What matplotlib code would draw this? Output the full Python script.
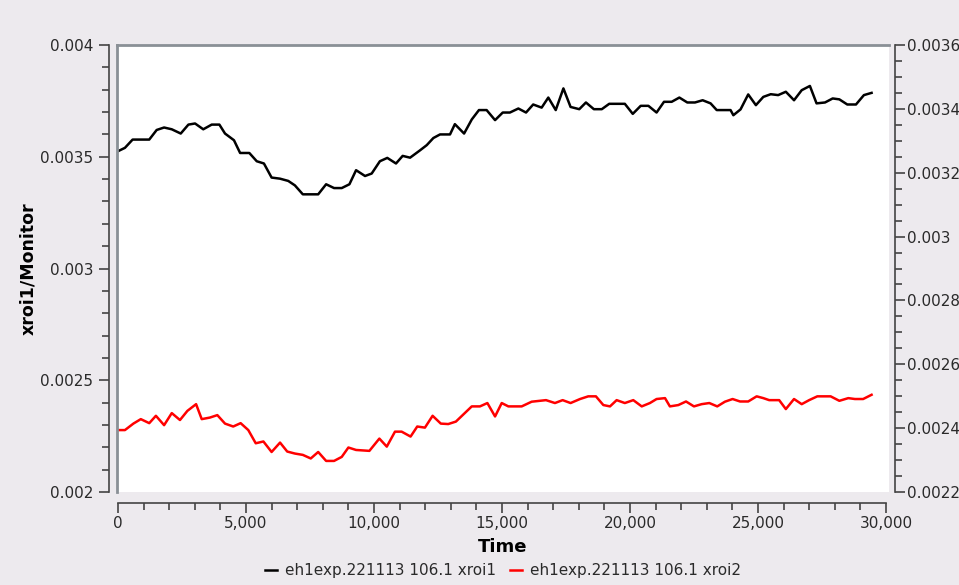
import matplotlib
matplotlib.use('Agg')
from matplotlib import pyplot as plt
from matplotlib.ticker import MultipleLocator, FuncFormatter

# xroi1 / Monitor (black)
t1 = [0, 270, 570, 1220, 1510, 1800, 2100, 2450, 2750, 3010, 3330, 3660, 3960,
      4180, 4530, 4770, 5130, 5420, 5700, 6000, 6330, 6650, 6910, 7220, 7820,
      8130, 8440, 8740, 9040, 9300, 9650, 9910, 10230, 10520, 10860, 11120,
      11410, 11800, 12060, 12320, 12580, 12970, 13160, 13520, 13820, 14100,
      14400, 14730, 15030, 15310, 15640, 15940, 16220, 16550, 16810, 17100,
      17400, 17680, 18020, 18280, 18590, 18900, 19190, 19800, 20110, 20420,
      20720, 21040, 21330, 21630, 21930, 22240, 22540, 22840, 23150, 23390,
      23930, 24040, 24320, 24620, 24920, 25210, 25500, 25790, 26090, 26410,
      26710, 27030, 27290, 27620, 27920, 28180, 28490, 28830, 29140, 29440]
xroi1 = [0.003525, 0.00354, 0.003577, 0.003577, 0.00362, 0.003631, 0.003623,
         0.003604, 0.003644, 0.003649, 0.003623, 0.003644, 0.003644, 0.003604,
         0.003574, 0.003517, 0.003517, 0.00348, 0.00347, 0.003407, 0.003402,
         0.003392, 0.003372, 0.003332, 0.003332, 0.003377, 0.00336, 0.00336,
         0.003377, 0.00344, 0.003414, 0.003425, 0.00348, 0.003495, 0.00347,
         0.003504, 0.003496, 0.003529, 0.003552, 0.003584, 0.0036, 0.0036,
         0.003646, 0.003604, 0.003667, 0.003709, 0.003709, 0.003664, 0.003698,
         0.003698, 0.003716, 0.003698, 0.003734, 0.00372, 0.003765, 0.003709,
         0.003806, 0.003723, 0.003713, 0.003743, 0.003713, 0.003713, 0.003737,
         0.003737, 0.003692, 0.003728, 0.003728, 0.003698, 0.003746, 0.003746,
         0.003765, 0.003743, 0.003743, 0.003753, 0.003739, 0.003709, 0.003709,
         0.003686, 0.003712, 0.003779, 0.003731, 0.003768, 0.00378, 0.003776,
         0.003791, 0.003753, 0.003798, 0.003817, 0.003739, 0.003743, 0.003761,
         0.003757, 0.003734, 0.003734, 0.003776, 0.003786]

# xroi2 (red)
t2 = [0, 270, 600, 890, 1220, 1480, 1800, 2100, 2420, 2710, 3050, 3270, 3590,
      3880, 4180, 4500, 4790, 5090, 5380, 5680, 6000, 6330, 6610, 6910, 7220,
      7530, 7820, 8130, 8440, 8740, 9000, 9300, 9820, 10210, 10500, 10820,
      11080, 11430, 11690, 11990, 12290, 12610, 12900, 13200, 13820, 14140,
      14430, 14730, 14990, 15250, 15770, 16160, 16720, 17070, 17370, 17680,
      18050, 18370, 18670, 18960, 19220, 19480, 19800, 20130, 20460, 20780,
      21040, 21370, 21560, 21890, 22190, 22500, 22800, 23100, 23410, 23710,
      24010, 24300, 24620, 24950, 25210, 25440, 25830, 26090, 26410, 26710,
      27000, 27320, 27840, 28180, 28530, 28790, 29110, 29440]
xroi2 = [0.002277, 0.002277, 0.002306, 0.002326, 0.002308, 0.002341, 0.002299,
         0.002353, 0.002322, 0.002363, 0.002393, 0.002326, 0.002333, 0.002344,
         0.002306, 0.002293, 0.002308, 0.002277, 0.002218, 0.002226, 0.002179,
         0.002221, 0.002181, 0.002172, 0.002166, 0.00215, 0.002179, 0.002139,
         0.002139, 0.002157, 0.002199, 0.002188, 0.002184, 0.002239, 0.002203,
         0.00227, 0.00227, 0.002248, 0.002293, 0.002288, 0.002341, 0.002306,
         0.002304, 0.002315, 0.002383, 0.002383, 0.002398, 0.002338, 0.002398,
         0.002383, 0.002383, 0.002404, 0.002411, 0.002398, 0.002411, 0.002398,
         0.002416, 0.002428, 0.002428, 0.002389, 0.002383, 0.002411, 0.002398,
         0.002411, 0.002383, 0.002398, 0.002416, 0.00242, 0.002383, 0.002389,
         0.002405, 0.002383, 0.002393, 0.002398, 0.002383, 0.002404, 0.002416,
         0.002405, 0.002405, 0.002428, 0.00242, 0.002411, 0.002411, 0.002371,
         0.002416, 0.002393, 0.002411, 0.002428, 0.002428, 0.002408, 0.00242,
         0.002416, 0.002416, 0.002435]

bg = '#edeaee'
txt = '#2a2a2a'
fig = plt.figure(figsize=(9.59, 5.85), dpi=100, facecolor=bg)
ax = fig.add_axes([0.122, 0.159, 0.805, 0.764])
ax.set_facecolor('white')

ax.plot(t1, xroi1, color='black', lw=1.8, label='eh1exp.221113 106.1 xroi1')
ax.plot(t2, xroi2, color='#ff0000', lw=1.8, label='eh1exp.221113 106.1 xroi2')

ax.set_xlim(-40, 30120)
ax.set_ylim(0.002, 0.004)

# axes look
ax.spines['left'].set_position(('outward', 6))
ax.spines['bottom'].set_position(('outward', 8))
ax.spines['bottom'].set_bounds(0, 30000)
for s in ['left', 'bottom']:
    ax.spines[s].set_color('#444444')
    ax.spines[s].set_linewidth(1.2)
ax.spines['right'].set_visible(False)
ax.spines['top'].set_color('#8a9096')
ax.spines['top'].set_linewidth(2)
ax.plot([0, 0], [0, 1], transform=ax.transAxes, color='#8a9096', lw=2, clip_on=False)

ax.xaxis.set_major_locator(MultipleLocator(5000))
ax.xaxis.set_minor_locator(MultipleLocator(1000))
ax.yaxis.set_major_locator(MultipleLocator(0.0005))
ax.yaxis.set_minor_locator(MultipleLocator(0.0001))
ax.xaxis.set_major_formatter(FuncFormatter(lambda v, p: '{:,.0f}'.format(v)))
ax.yaxis.set_major_formatter(FuncFormatter(lambda v, p: '{:g}'.format(round(v, 6))))
ax.tick_params(which='major', length=7, width=1.2, color='#444444', labelsize=11, labelcolor=txt)
ax.tick_params(axis='y', which='major', pad=4)
ax.tick_params(axis='x', which='major', pad=2)
ax.tick_params(which='minor', length=5, width=1.2, color='#444444')

ax.set_xlabel('Time', fontsize=13, fontweight='bold', color='black', labelpad=5)
ax.set_ylabel('xroi1/Monitor', fontsize=12.5, fontweight='bold', color='black', labelpad=2)

# right axis
ax2 = ax.twinx()
ax2.set_ylim(0.0022, 0.0036)
for s in ['left', 'top', 'bottom']:
    ax2.spines[s].set_visible(False)
ax2.spines['right'].set_position(('outward', 4))
ax2.spines['right'].set_color('#444444')
ax2.spines['right'].set_linewidth(1.2)
ax2.yaxis.set_major_locator(MultipleLocator(0.0002))
ax2.yaxis.set_minor_locator(MultipleLocator(0.00005))
ax2.yaxis.set_major_formatter(FuncFormatter(lambda v, p: '{:g}'.format(round(v, 6))))
ax2.tick_params(which='major', length=7, width=1.2, color='#444444', labelsize=11, labelcolor=txt, pad=2)
ax2.tick_params(which='minor', length=5, width=1.2, color='#444444')

# legend centred under the plot area, not the figure
fig.legend(loc='lower center', bbox_to_anchor=(0.5245, -0.012), ncol=2, frameon=False,
           fontsize=11, handlelength=0.8, handletextpad=0.5, columnspacing=0.9,
           labelcolor=txt)

fig.savefig('out.png', dpi=100, facecolor=bg)
